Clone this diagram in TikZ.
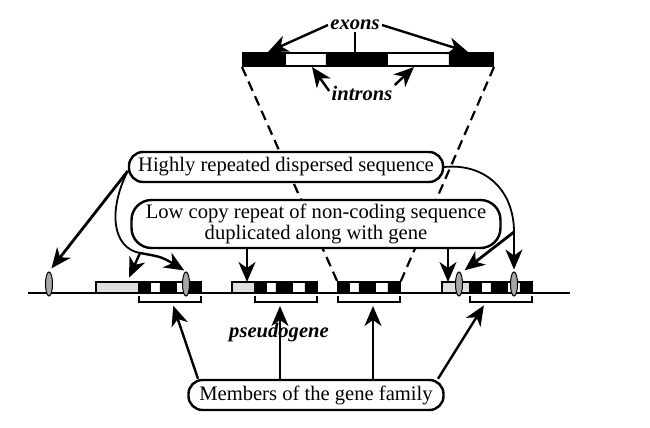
\documentclass[tikz,border=0pt]{standalone}
\usepackage{fontspec}
\setmainfont{Liberation Serif}
\usepackage{tikz}
\usetikzlibrary{shapes.geometric,arrows.meta,positioning}

\begin{document}
\begin{tikzpicture}[x=0.5pt,y=-0.5pt,
  font=\fontsize{10.3}{9.2}\selectfont,
  rbox/.style={rectangle,draw,line width=1.2pt,fill=white,inner sep=0pt,
               align=center},
  gene/.style={rectangle,draw,line width=0.8pt,fill=white,inner sep=0pt,
               minimum width=31pt,minimum height=5.5pt},
  flank/.style={rectangle,draw,line width=0.8pt,fill=black!13,inner sep=0pt,
                minimum height=5.5pt},
  rep/.style={ellipse,draw,line width=0.5pt,fill=black!35,inner sep=0pt,
              minimum width=3.5pt,minimum height=12pt},
  lbl/.style={font=\fontsize{10.3}{12}\selectfont\bfseries\itshape,inner sep=1pt},
  arr/.style={-{Stealth[length=10pt,width=8.5pt,inset=3pt]},line width=1.2pt},
  tarr/.style={arr,line width=0.7pt},
  darr/.style={dash pattern=on 5pt off 3pt,line width=1.1pt},
  brk/.style={line width=0.9pt}
]
\useasboundingbox (0,0) rectangle (650,428);

\draw[line width=0.9pt] (28,293) -- (570,293);

\node[rectangle,draw,fill=white,line width=1pt,inner sep=0pt,
      minimum width=125pt,minimum height=6.5pt] (bar) at (368,59.5) {};
\fill (243,53) rectangle (286,66) (326,53) rectangle (388,66) (449,53) rectangle (493,66);

\foreach \g/\x in {1/139,2/255,3/338,4/470}{
  \node[gene] (g\g) at (\x+31,287.5) {};
  \fill (\x,282) rectangle ++(12,11) (\x+21,282) rectangle ++(17,11)
        (\x+50,282) rectangle ++(12,11);
  \draw[brk] (\x,296) -- ++(0,6) -- ++(62,0) -- ++(0,-6);
}

\node[flank,minimum width=21.5pt] (f1) at (117.5,287.5) {};
\node[flank,minimum width=11.5pt] (f2) at (243.5,287.5) {};
\node[flank,minimum width=14pt]   (f4) at (456,287.5) {};

\node[rep] (o1) at (49,284) {};
\node[rep] (o2) at (186,284) {};
\node[rep] (o3) at (459,284) {};
\node[rep] (o4) at (514,284) {};

\draw[darr] (bar.south west) -- (g3.north west);
\draw[darr] (bar.south east) -- (g3.north east);

\node[rbox,rounded corners=7pt,minimum width=157pt,minimum height=15pt] (hi)
  at (286,167) {Highly repeated dispersed sequence};
\node[rbox,rounded corners=10pt,minimum width=184.5pt,minimum height=24pt] (lo)
  at (316,224) {Low copy repeat of non-coding sequence\\duplicated along with gene};
\node[rbox,rounded corners=7pt,minimum width=127.5pt,minimum height=15pt] (mem)
  at (316,395) {Members of the gene family};

\node[lbl] (ex) at (355,25) {exons};
\node[lbl] (in) at (362,93) {introns};
\node[lbl] (ps) at (279,333) {pseudogene};

\draw[line width=1pt] (ex.south) -- (ex.south |- bar.north);
\draw[arr] (ex.west) -- ([xshift=13pt]bar.north west);
\draw[arr] (ex.east) -- ([xshift=-13pt]bar.north east);
\draw[arr] ([yshift=1pt]in.west) -- ([xshift=35pt]bar.south west);
\draw[arr] ([yshift=4pt]in.east) -- ([xshift=-40pt]bar.south east);

\coordinate (fk) at (140,253);
\coordinate (fk2) at (514,232);
\draw[arr,line width=1.4pt,shorten >=2pt] ([yshift=-2pt]hi.west) -- (o1.north);
\draw[line width=0.9pt] ([yshift=-2pt]hi.west) .. controls (108,210) and (112,248) .. (fk);
\draw[arr,shorten >=1pt] (fk) .. controls (162,257) .. (o2.north);
\draw[arr,shorten >=2pt] (fk) -- ([xshift=5pt]f1.north);
\draw[line width=0.9pt] (hi.east) .. controls (485,163) and (514,190) .. (fk2);
\draw[tarr,shorten >=1pt] (fk2) -- (o4.north);
\draw[arr,line width=1.4pt,shorten >=1pt] (fk2) -- ([xshift=2pt]o3.north);

\coordinate (t2) at (247,282);
\coordinate (t4) at (448,282);
\draw[tarr] (lo.south -| t2) -- (t2);
\draw[tarr] (lo.south -| t4) -- (t4);

\coordinate (m1) at (172,302);
\coordinate (m2) at (280,302);
\coordinate (m3) at (373,302);
\coordinate (m4) at (486,302);
\draw[arr,shorten >=2pt] ([xshift=-59pt]mem.north) -- (m1);
\draw[tarr,shorten >=2pt] (mem.north -| m2) -- (m2);
\draw[arr,shorten >=2pt] (mem.north -| m3) -- (m3);
\draw[arr,shorten >=2pt] ([xshift=61pt]mem.north) -- (m4);
\end{tikzpicture}
\end{document}
